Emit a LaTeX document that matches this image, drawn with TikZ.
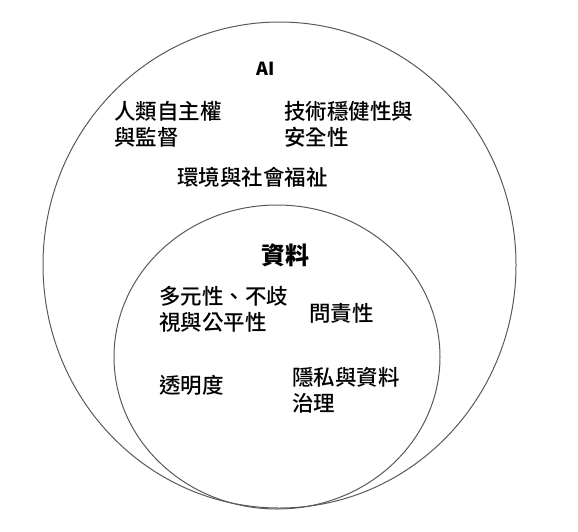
\documentclass[tikz,border=0pt]{standalone}
\usepackage{fontspec}
\setmainfont{Noto Sans CJK TC}
\newfontfamily\medcjk{Noto Sans CJK TC Medium}
\begin{document}
\begin{tikzpicture}[x=1pt,y=-1pt,
		ring/.style={draw=black!65,line width=1pt},
		item/.style={anchor=base west,inner sep=0pt,align=left,
			font=\medcjk\fontsize{21.5}{26}\selectfont},
		head/.style={anchor=base west,inner sep=0pt,font=\bfseries\fontsize{#1}{#1}\selectfont}]
			\useasboundingbox (0,0) rectangle (578,531);
			% rings
			\draw[ring] (279.5,265) ellipse [x radius=236.5,y radius=243];
			\draw[ring] (277,357) ellipse [x radius=163,y radius=152];
			% outer ring (base = last line)
			\node[head=18] (ai) at (256,75){AI};
			\node[item] (human) at (114,145.5){人類自主權\\與監督};
			\node[item] (robust) at (284,145.5){技術穩健性與\\安全性};
			\node[item] (env) at (177,185.5){環境與社會福祉};
			% inner ring
			\node[head=24] (data) at (261,264.5){資料};
			\node[item] (fair) at (159,330.5){多元性、不歧\\視與公平性};
			\node[item] (acct) at (309,321.5){問責性};
			\node[item] (trans) at (159,393.5){透明度};
			\node[item] (priv) at (292,411.5){隱私與資料\\治理};
		\end{tikzpicture}
\end{document}
